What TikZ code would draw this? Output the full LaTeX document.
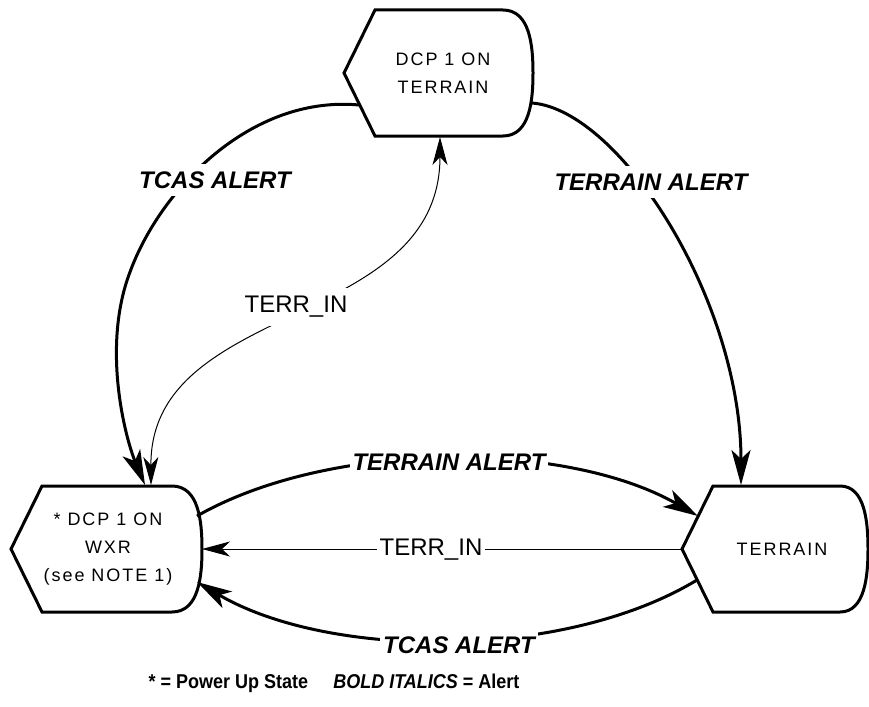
\documentclass[tikz,border=0pt]{standalone}
\usepackage{graphicx}
\usepackage{fontspec}
\setmainfont{Liberation Sans}
\newfontfamily\nodefont{Liberation Sans}[LetterSpace=11]
\usetikzlibrary{arrows.meta}
\begin{document}
\begin{tikzpicture}[x=1pt,y=-1pt,
  outline/.style={line width=3pt, line join=miter},
  statetext/.style={align=center, font=\nodefont\fontsize{18}{28}\selectfont, inner sep=0pt},
  alertedge/.style={line width=3pt, -{Stealth[length=35pt,width=19pt,inset=9pt]}},
  inedge/.style={line width=1pt, -{Stealth[length=28pt,width=15pt,inset=8pt]}},
  inedgeboth/.style={line width=1pt, {Stealth[length=28pt,width=15pt,inset=8pt]}-{Stealth[length=28pt,width=15pt,inset=8pt]}},
  alertlabel/.style={fill=white, inner xsep=3pt, inner ysep=8pt, font=\bfseries\itshape\fontsize{24}{28}\selectfont},
  inlabel/.style={fill=white, inner xsep=3pt, inner ysep=8pt, font=\fontsize{24}{28}\selectfont},
  legendtext/.style={font=\bfseries\fontsize{20}{24}\selectfont, inner sep=0pt}
]
\useasboundingbox (0,0) rectangle (869,706);

% state outlines
\draw[outline] (375,10) -- (503,10) .. controls (530,10) and (533,46) .. (533,73)
  .. controls (533,100) and (530,136) .. (503,136) -- (375,136) -- (344,73) -- cycle;
\draw[outline] (42,486) -- (172,486) .. controls (199,486) and (202,522) .. (202,549)
  .. controls (202,576) and (199,612) .. (172,612) -- (42,612) -- (11,549) -- cycle;
\draw[outline] (713,486) -- (840,486) .. controls (865,486) and (868,522) .. (868,549)
  .. controls (868,576) and (865,612) .. (840,612) -- (713,612) -- (682,549) -- cycle;

% state texts
\node[statetext] (dcpterr) at (443,73) {DCP 1 ON\\TERRAIN};
\node[statetext] (wxr) at (108,549) {* DCP 1 ON\\WXR\\(see NOTE 1)};
\node[statetext] (terr) at (782,549) {TERRAIN};

% connection points
\coordinate (t-tcas) at (359,105);
\coordinate (w-mid) at (130,272);
\coordinate (w-tcas) at (145,485);
\coordinate (t-terr) at (532,103);
\coordinate (r-terr) at (741,485);
\coordinate (w-in) at (151,485);
\coordinate (t-in) at (440,137);
\coordinate (w-terr) at (197,516);
\coordinate (r-terrin) at (698,516);
\coordinate (r-in) at (682,549);
\coordinate (w-in2) at (202,549);
\coordinate (r-tcas) at (697,580);
\coordinate (w-tcas2) at (197,582);

% connectors
\draw[alertedge] (t-tcas) .. controls (250,95) and (160,190) .. (w-mid)
  .. controls (101,348) and (126,440) .. (w-tcas);
\draw[alertedge] (t-terr) .. controls (620,110) and (741,300) .. (r-terr);
\draw[inedgeboth] (w-in) .. controls (150,300) and (440,330) .. (t-in);
\draw[alertedge] (w-terr) .. controls (330,440) and (565,440) .. (r-terrin);
\draw[inedge] (r-in) -- (w-in2);
\draw[alertedge] (r-tcas) .. controls (565,660) and (330,660) .. (w-tcas2);

% labels
\node[alertlabel] (l-tcas1) at (215,180) {TCAS ALERT};
\node[alertlabel] (l-terr1) at (651,182) {TERRAIN ALERT};
\node[inlabel] (l-in1) at (296,307) {TERR\_IN};
\node[alertlabel] (l-terr2) at (449,462) {TERRAIN ALERT};
\node[inlabel, inner ysep=3pt] (l-in2) at (431,550) {TERR\_IN};
\node[alertlabel] (l-tcas2) at (459,645) {TCAS ALERT};

% legend
\node[legendtext] (legend) at (334,683) {\scalebox{0.9}[1]{* = Power Up State\hspace{28pt}\textit{BOLD ITALICS} = Alert}};
\end{tikzpicture}
\end{document}
